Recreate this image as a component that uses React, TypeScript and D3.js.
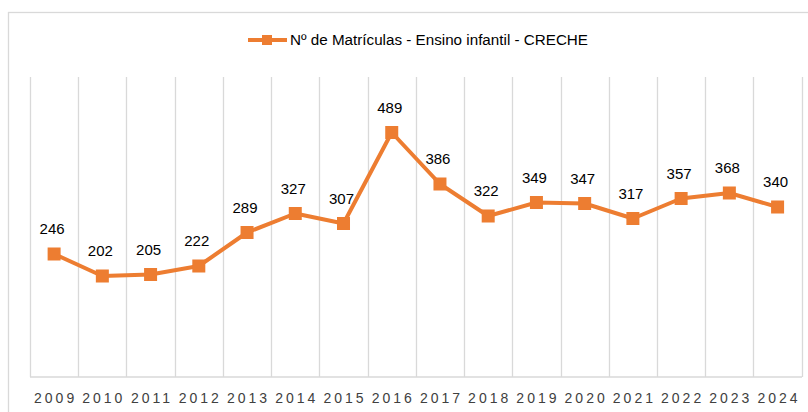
import React, { useEffect, useRef } from 'react';
import * as d3 from 'd3';

const years = ['2009', '2010', '2011', '2012', '2013', '2014', '2015', '2016', '2017', '2018', '2019', '2020', '2021', '2022', '2023', '2024'];
const matriculas = [246, 202, 205, 222, 289, 327, 307, 489, 386, 322, 349, 347, 317, 357, 368, 340];
const seriesName = 'Nº de Matrículas - Ensino infantil - CRECHE';

const ORANGE = '#ED7D31';
const GRID = '#d9d9d9';
const FONT = '"Liberation Sans", Arial, sans-serif';

export default function App() {
  const ref = useRef<SVGSVGElement>(null);

  useEffect(() => {
    const svg = d3.select(ref.current);
    svg.selectAll('*').remove();

    const x = d3.scaleBand().domain(years).range([30, 801.7]);
    const y = d3.scaleLinear().domain([0, 600]).range([377, 77]);

    // outer chart border
    svg.append('rect')
      .attr('x', 8.5).attr('y', 12.5)
      .attr('width', 820).attr('height', 420)
      .attr('fill', 'white')
      .attr('stroke', GRID).attr('stroke-width', 1.3);

    // vertical gridlines at category edges
    const edges = years.map(d => x(d) as number).concat([x.range()[1]]);
    svg.append('g').selectAll('line')
      .data(edges)
      .enter().append('line')
      .attr('x1', d => Math.round(d) + 0.5).attr('x2', d => Math.round(d) + 0.5)
      .attr('y1', y(600)).attr('y2', y(0))
      .attr('stroke', GRID).attr('stroke-width', 1.3);

    // axis line
    svg.append('line')
      .attr('x1', 30).attr('x2', 802)
      .attr('y1', y(0)).attr('y2', y(0))
      .attr('stroke', GRID).attr('stroke-width', 1.3);

    // year labels
    svg.append('g').selectAll('text')
      .data(years)
      .enter().append('text')
      .text(d => d)
      .attr('x', d => (x(d) as number) + x.bandwidth() / 2 + 1.5)
      .attr('y', 403)
      .attr('text-anchor', 'middle')
      .attr('font-family', FONT)
      .attr('font-size', 14)
      .attr('letter-spacing', 3)
      .attr('fill', '#404040');

    const cx = (i: number) => (x(years[i]) as number) + x.bandwidth() / 2;

    const line = d3.line<number>()
      .x((d, i) => cx(i))
      .y(d => y(d));

    svg.append('path')
      .datum(matriculas)
      .attr('d', line)
      .attr('fill', 'none')
      .attr('stroke', ORANGE)
      .attr('stroke-width', 4)
      .attr('stroke-linejoin', 'round');

    svg.append('g').selectAll('rect')
      .data(matriculas)
      .enter().append('rect')
      .attr('x', (d, i) => cx(i) - 6.5)
      .attr('y', d => y(d) - 6.5)
      .attr('width', 13).attr('height', 13)
      .attr('fill', ORANGE);

    svg.append('g').selectAll('text')
      .data(matriculas)
      .enter().append('text')
      .text(d => d)
      .attr('x', (d, i) => cx(i) - 2)
      .attr('y', d => y(d) - 20)
      .attr('text-anchor', 'middle')
      .attr('font-family', FONT)
      .attr('font-size', 15)
      .attr('fill', '#000');

    // legend
    const lg = svg.append('g');
    lg.append('line')
      .attr('x1', 248).attr('x2', 287)
      .attr('y1', 40).attr('y2', 40)
      .attr('stroke', ORANGE).attr('stroke-width', 4);
    lg.append('rect')
      .attr('x', 262).attr('y', 35)
      .attr('width', 10).attr('height', 10)
      .attr('fill', ORANGE);
    lg.append('text')
      .text(seriesName)
      .attr('x', 290).attr('y', 45)
      .attr('textLength', 298)
      .attr('lengthAdjust', 'spacingAndGlyphs')
      .attr('font-family', FONT)
      .attr('font-size', 14)
      .attr('fill', '#000');
  }, []);

  return (
    <svg ref={ref} width={808} height={412}
      style={{ position: 'absolute', left: 0, top: 0, background: 'white' }} />
  );
}
